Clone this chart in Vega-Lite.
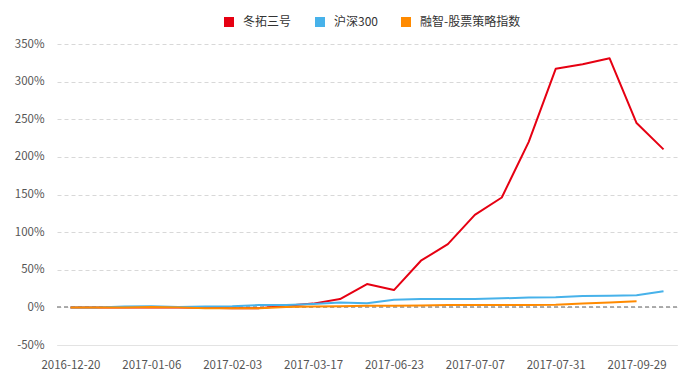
{
  "$schema": "https://vega.github.io/schema/vega-lite/v6.json",
  "width": 620,
  "height": 301,
  "autosize": {"type": "none"},
  "padding": {"left": 57, "top": 44, "right": 23, "bottom": 42},
  "background": "white",
  "config": {
    "view": {"stroke": null},
    "font": "Noto Sans CJK SC"
  },
  "data": {
    "values": [
      {"date": "2016-12-20", "series": "冬拓三号", "value": 0},
      {"date": "2016-12-27", "series": "冬拓三号", "value": 0},
      {"date": "2016-12-30", "series": "冬拓三号", "value": 0},
      {"date": "2017-01-06", "series": "冬拓三号", "value": 0},
      {"date": "2017-01-13", "series": "冬拓三号", "value": 0},
      {"date": "2017-01-20", "series": "冬拓三号", "value": -0.5},
      {"date": "2017-02-03", "series": "冬拓三号", "value": -1},
      {"date": "2017-02-17", "series": "冬拓三号", "value": -1},
      {"date": "2017-03-03", "series": "冬拓三号", "value": 2},
      {"date": "2017-03-17", "series": "冬拓三号", "value": 5},
      {"date": "2017-03-31", "series": "冬拓三号", "value": 11},
      {"date": "2017-04-28", "series": "冬拓三号", "value": 31},
      {"date": "2017-06-23", "series": "冬拓三号", "value": 23},
      {"date": "2017-06-27", "series": "冬拓三号", "value": 62},
      {"date": "2017-06-30", "series": "冬拓三号", "value": 84},
      {"date": "2017-07-07", "series": "冬拓三号", "value": 123},
      {"date": "2017-07-14", "series": "冬拓三号", "value": 146},
      {"date": "2017-07-21", "series": "冬拓三号", "value": 220},
      {"date": "2017-07-31", "series": "冬拓三号", "value": 317},
      {"date": "2017-08-31", "series": "冬拓三号", "value": 323},
      {"date": "2017-09-15", "series": "冬拓三号", "value": 331},
      {"date": "2017-09-29", "series": "冬拓三号", "value": 245},
      {"date": "2017-10-20", "series": "冬拓三号", "value": 210},
      {"date": "2016-12-20", "series": "沪深300", "value": 0},
      {"date": "2016-12-27", "series": "沪深300", "value": 0},
      {"date": "2016-12-30", "series": "沪深300", "value": 1},
      {"date": "2017-01-06", "series": "沪深300", "value": 1.5},
      {"date": "2017-01-13", "series": "沪深300", "value": 0.5},
      {"date": "2017-01-20", "series": "沪深300", "value": 1},
      {"date": "2017-02-03", "series": "沪深300", "value": 1.5},
      {"date": "2017-02-17", "series": "沪深300", "value": 3},
      {"date": "2017-03-03", "series": "沪深300", "value": 3},
      {"date": "2017-03-17", "series": "沪深300", "value": 4.5},
      {"date": "2017-03-31", "series": "沪深300", "value": 6.5},
      {"date": "2017-04-28", "series": "沪深300", "value": 5.5},
      {"date": "2017-06-23", "series": "沪深300", "value": 10},
      {"date": "2017-06-27", "series": "沪深300", "value": 11},
      {"date": "2017-06-30", "series": "沪深300", "value": 11},
      {"date": "2017-07-07", "series": "沪深300", "value": 11},
      {"date": "2017-07-14", "series": "沪深300", "value": 12},
      {"date": "2017-07-21", "series": "沪深300", "value": 13},
      {"date": "2017-07-31", "series": "沪深300", "value": 13.5},
      {"date": "2017-08-31", "series": "沪深300", "value": 15},
      {"date": "2017-09-15", "series": "沪深300", "value": 15.5},
      {"date": "2017-09-29", "series": "沪深300", "value": 16},
      {"date": "2017-10-20", "series": "沪深300", "value": 21.5},
      {"date": "2016-12-20", "series": "融智-股票策略指数", "value": 0},
      {"date": "2016-12-27", "series": "融智-股票策略指数", "value": 0},
      {"date": "2016-12-30", "series": "融智-股票策略指数", "value": 0},
      {"date": "2017-01-06", "series": "融智-股票策略指数", "value": 0.5},
      {"date": "2017-01-13", "series": "融智-股票策略指数", "value": 0},
      {"date": "2017-01-20", "series": "融智-股票策略指数", "value": -1},
      {"date": "2017-02-03", "series": "融智-股票策略指数", "value": -1},
      {"date": "2017-02-17", "series": "融智-股票策略指数", "value": -1},
      {"date": "2017-03-03", "series": "融智-股票策略指数", "value": 0.5},
      {"date": "2017-03-17", "series": "融智-股票策略指数", "value": 1},
      {"date": "2017-03-31", "series": "融智-股票策略指数", "value": 1.5},
      {"date": "2017-04-28", "series": "融智-股票策略指数", "value": 2},
      {"date": "2017-06-23", "series": "融智-股票策略指数", "value": 2},
      {"date": "2017-06-27", "series": "融智-股票策略指数", "value": 2.5},
      {"date": "2017-06-30", "series": "融智-股票策略指数", "value": 3},
      {"date": "2017-07-07", "series": "融智-股票策略指数", "value": 3},
      {"date": "2017-07-14", "series": "融智-股票策略指数", "value": 3},
      {"date": "2017-07-21", "series": "融智-股票策略指数", "value": 3},
      {"date": "2017-07-31", "series": "融智-股票策略指数", "value": 3.5},
      {"date": "2017-08-31", "series": "融智-股票策略指数", "value": 5},
      {"date": "2017-09-15", "series": "融智-股票策略指数", "value": 6.5},
      {"date": "2017-09-29", "series": "融智-股票策略指数", "value": 8}
    ]
  },
  "layer": [
    {
      "mark": {"type": "rule", "color": "#a8a8a8", "strokeDash": [4, 3], "strokeWidth": 1},
      "encoding": {"y": {"datum": 0, "type": "quantitative"}}
    },
    {
      "mark": {"type": "line", "strokeWidth": 2, "strokeJoin": "round"},
      "encoding": {
        "x": {
          "field": "date",
          "type": "ordinal",
          "sort": "ascending",
          "scale": {"type": "point", "padding": 0.5},
          "axis": {
            "title": null,
            "values": ["2016-12-20", "2017-01-06", "2017-02-03", "2017-03-17", "2017-06-23", "2017-07-07", "2017-07-31", "2017-09-29"],
            "labelAngle": 0,
            "ticks": false,
            "domain": true,
            "domainColor": "#e3e3e3",
            "labelColor": "#555555",
            "labelFontSize": 11.5,
            "labelPadding": 14,
            "labelOverlap": false,
            "grid": false
          }
        },
        "y": {
          "field": "value",
          "type": "quantitative",
          "scale": {"domain": [-50, 350], "nice": false, "zero": false},
          "axis": {
            "title": null,
            "values": [-50, 0, 50, 100, 150, 200, 250, 300, 350],
            "tickCount": 20,
            "labelExpr": "datum.value + '%'",
            "labelOverlap": false,
            "ticks": false,
            "domain": false,
            "grid": true,
            "gridColor": "#d8d8d8",
            "gridDash": [4, 3],
            "labelColor": "#555555",
            "labelFontSize": 11.5,
            "labelPadding": 13
          }
        },
        "color": {
          "field": "series",
          "type": "nominal",
          "scale": {
            "domain": ["冬拓三号", "沪深300", "融智-股票策略指数"],
            "range": ["#e60012", "#47b2ea", "#ff8a00"]
          },
          "legend": {
            "title": null,
            "orient": "none",
            "direction": "horizontal",
            "legendX": 166,
            "legendY": -28,
            "symbolType": "square",
            "symbolSize": 100,
            "symbolStrokeWidth": 0,
            "symbolOpacity": 1,
            "labelFontSize": 12,
            "labelColor": "#333333",
            "labelOffset": 8,
            "columnPadding": 22,
            "encode": {
              "symbols": {
                "update": {
                  "fill": {"scale": "color", "field": "value"},
                  "fillOpacity": {"value": 1},
                  "strokeWidth": {"value": 0}
                }
              }
            }
          }
        }
      }
    }
  ]
}
